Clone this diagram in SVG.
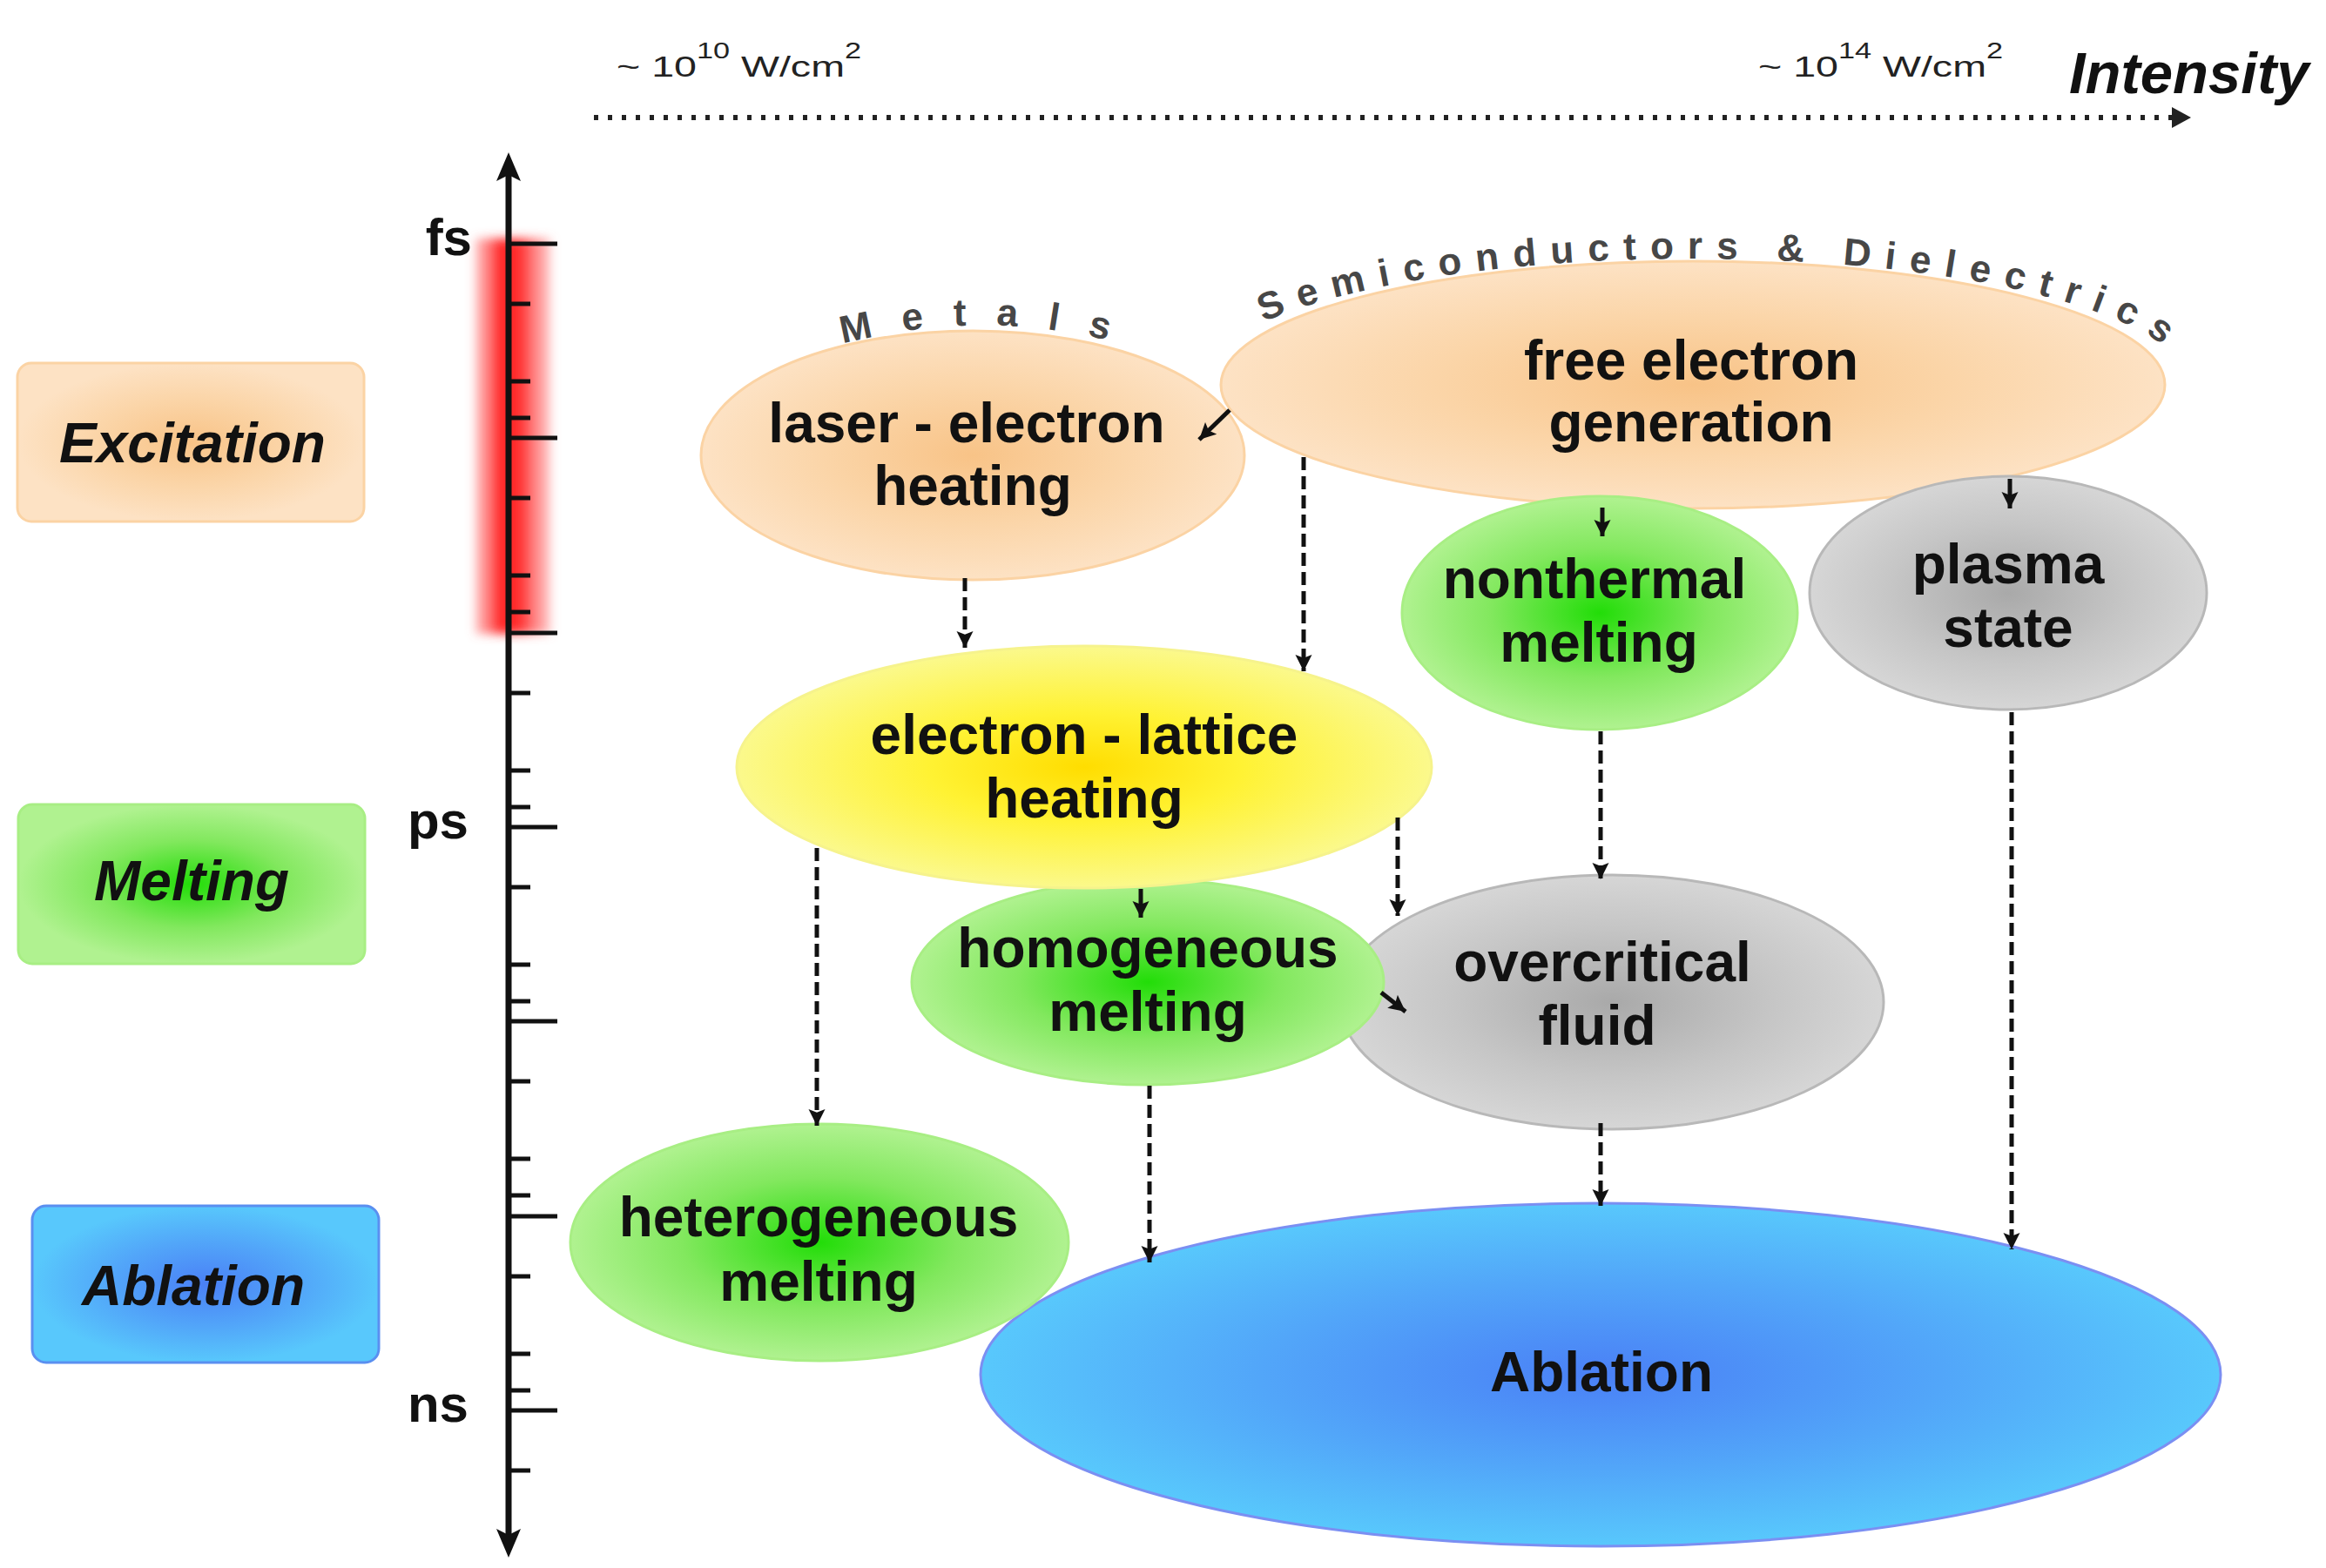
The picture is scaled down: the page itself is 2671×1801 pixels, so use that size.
<svg xmlns="http://www.w3.org/2000/svg" width="2671" height="1801" viewBox="0 0 2671 1801">
<defs>
<style>
.t{font-family:"Liberation Sans",Arial,sans-serif;font-weight:bold;font-size:64px;text-anchor:middle;fill:#111}
.ti{font-family:"Liberation Sans",Arial,sans-serif;font-weight:bold;font-style:italic;font-size:64px;text-anchor:middle;fill:#111}
.ax{font-family:"Liberation Sans",Arial,sans-serif;font-weight:bold;font-size:60px;text-anchor:end;fill:#111}
.sm{font-family:"Liberation Sans",Arial,sans-serif;font-size:34px;fill:#222}
.arc{font-family:"Liberation Sans",Arial,sans-serif;font-weight:bold;font-size:44px;fill:#474747}
.dash{fill:none;stroke:#111;stroke-width:5;stroke-dasharray:15 7;marker-end:url(#ah)}
.solid{fill:none;stroke:#111;stroke-width:5;marker-end:url(#ah)}
</style>
<marker id="ah" viewBox="0 0 20 20" refX="20" refY="10" markerWidth="19" markerHeight="20" markerUnits="userSpaceOnUse" orient="auto">
<path d="M0,0 L20,10 L0,20 L4,10 z" fill="#111"/>
</marker>
<radialGradient id="gPeach" cx="50%" cy="50%" r="50%">
<stop offset="0" stop-color="#f8c387"/><stop offset="0.55" stop-color="#fbd5a8"/><stop offset="1" stop-color="#fde2c4"/>
</radialGradient>
<radialGradient id="gGreen" cx="50%" cy="50%" r="50%">
<stop offset="0" stop-color="#22dd08"/><stop offset="0.55" stop-color="#82e85e"/><stop offset="1" stop-color="#b0f290"/>
</radialGradient>
<radialGradient id="gYellow" cx="50%" cy="50%" r="50%">
<stop offset="0" stop-color="#ffdd00"/><stop offset="0.45" stop-color="#fff233"/><stop offset="1" stop-color="#fbf98c"/>
</radialGradient>
<radialGradient id="gGray" cx="50%" cy="50%" r="50%">
<stop offset="0" stop-color="#a9a9a9"/><stop offset="0.6" stop-color="#c6c6c6"/><stop offset="1" stop-color="#d6d6d6"/>
</radialGradient>
<radialGradient id="gBlue" cx="50%" cy="50%" r="50%">
<stop offset="0" stop-color="#4a80f6"/><stop offset="0.55" stop-color="#52a6f9"/><stop offset="1" stop-color="#58c8fc"/>
</radialGradient>
<linearGradient id="gRed" x1="0" y1="0" x2="1" y2="0">
<stop offset="0" stop-color="#ff7070" stop-opacity="0.45"/><stop offset="0.35" stop-color="#ff2020"/><stop offset="0.6" stop-color="#ff3030"/><stop offset="1" stop-color="#ff8080" stop-opacity="0.45"/>
</linearGradient>
<filter id="blur" x="-20%" y="-10%" width="140%" height="120%"><feGaussianBlur stdDeviation="6"/></filter>
<path id="arcMetals" d="M800,469 A613,613 0 0 1 1456,469"/>
<path id="arcSemi" d="M1376,442 A568,145 0 0 1 2512,442"/>
</defs>
<rect width="2671" height="1801" fill="#fff"/>

<!-- intensity axis -->
<g id="intensity-axis">
<text class="sm" transform="translate(708,88) scale(1.37,1)">~ 10<tspan font-size="25" dy="-21">10</tspan><tspan dy="21"> W/cm</tspan><tspan font-size="25" dy="-21">2</tspan></text>
<text class="sm" transform="translate(2019,88) scale(1.37,1)">~ 10<tspan font-size="25" dy="-21">14</tspan><tspan dy="21"> W/cm</tspan><tspan font-size="25" dy="-21">2</tspan></text>
<text x="2376" y="107" style="font-family:'Liberation Sans',Arial,sans-serif;font-weight:bold;font-style:italic;font-size:67px;fill:#111">Intensity</text>
<line x1="682" y1="135" x2="2496" y2="135" stroke="#222" stroke-width="6" stroke-dasharray="5 11"/>
<polygon points="2494,123 2516,135 2494,147" fill="#222"/>
</g>

<!-- time axis -->
<g id="time-axis">
<rect x="546" y="274" width="86" height="454" fill="url(#gRed)" filter="url(#blur)"/>
<line x1="584" y1="200" x2="584" y2="1765" stroke="#111" stroke-width="7"/>
<polygon points="584,175 570,208 584,201 598,208" fill="#111"/>
<polygon points="584,1789 570,1756 584,1763 598,1756" fill="#111"/>
<path stroke="#111" stroke-width="5" fill="none" d="M584,280H640 M584,503H640 M584,727H640 M584,950H640 M584,1173H640 M584,1397H640 M584,1620H640
M584,349H609 M584,438H609 M584,480H609 M584,572H609 M584,661H609 M584,703H609 M584,796H609 M584,885H609 M584,927H609
M584,1019H609 M584,1108H609 M584,1150H609 M584,1242H609 M584,1331H609 M584,1373H609 M584,1466H609 M584,1555H609 M584,1597H609 M584,1689H609"/>
<text class="ax" x="542" y="293">fs</text>
<text class="ax" x="538" y="963">ps</text>
<text class="ax" x="538" y="1633">ns</text>
</g>

<!-- left phase labels -->
<g id="label-excitation">
<rect x="20" y="417" width="398" height="182" rx="16" fill="url(#gPeach)" stroke="#fbd3a4" stroke-width="3"/>
<text class="ti" x="221" y="531">Excitation</text>
</g>
<g id="label-melting">
<rect x="21" y="924" width="398" height="183" rx="16" fill="url(#gGreen)" stroke="#a8ee84" stroke-width="3"/>
<text class="ti" x="220" y="1034">Melting</text>
</g>
<g id="label-ablation">
<rect x="37" y="1385" width="398" height="180" rx="16" fill="url(#gBlue)" stroke="#5a8ff0" stroke-width="3"/>
<text class="ti" x="222" y="1499">Ablation</text>
</g>

<!-- curved group labels -->
<g id="group-labels">
<text class="arc" letter-spacing="34"><textPath href="#arcMetals" startOffset="184">Metals</textPath></text>
<text class="arc" letter-spacing="16"><textPath href="#arcSemi" startOffset="109">Semiconductors &amp; Dielectrics</textPath></text>
</g>

<!-- nodes -->
<g id="node-ablation">
<ellipse cx="1838" cy="1579" rx="712" ry="197" fill="url(#gBlue)" stroke="#7b8ff2" stroke-width="3"/>
<text class="t" x="1839" y="1598">Ablation</text>
</g>
<g id="node-overcritical">
<ellipse cx="1851" cy="1151" rx="312" ry="146" fill="url(#gGray)" stroke="#b8b8b8" stroke-width="3"/>
<text class="t" x="1840" y="1127">overcritical</text>
<text class="t" x="1834" y="1200">fluid</text>
</g>
<g id="node-heterogeneous">
<ellipse cx="941" cy="1427" rx="286" ry="136" fill="url(#gGreen)" stroke="#a8ee84" stroke-width="3"/>
<text class="t" x="940" y="1420">heterogeneous</text>
<text class="t" x="940" y="1494">melting</text>
</g>
<g id="node-homogeneous">
<ellipse cx="1318" cy="1128" rx="271" ry="118" fill="url(#gGreen)" stroke="#a8ee84" stroke-width="3"/>
<text class="t" x="1318" y="1111">homogeneous</text>
<text class="t" x="1318" y="1184">melting</text>
</g>
<g id="node-electron-lattice">
<ellipse cx="1245" cy="881" rx="399" ry="139" fill="url(#gYellow)" stroke="#f6f38c" stroke-width="3"/>
<text class="t" x="1245" y="866">electron - lattice</text>
<text class="t" x="1245" y="939">heating</text>
</g>
<g id="node-laser-electron">
<ellipse cx="1117" cy="523" rx="312" ry="143" fill="url(#gPeach)" stroke="#fbd3a4" stroke-width="3"/>
<text class="t" x="1110" y="508">laser - electron</text>
<text class="t" x="1117" y="580">heating</text>
</g>
<g id="node-free-electron">
<ellipse cx="1944" cy="442" rx="542" ry="142" fill="url(#gPeach)" stroke="#fbd3a4" stroke-width="3"/>
<text class="t" x="1942" y="436">free electron</text>
<text class="t" x="1942" y="507">generation</text>
</g>
<g id="node-nonthermal">
<ellipse cx="1837" cy="704" rx="227" ry="134" fill="url(#gGreen)" stroke="#a8ee84" stroke-width="3"/>
<text class="t" x="1831" y="687">nonthermal</text>
<text class="t" x="1836" y="760">melting</text>
</g>
<g id="node-plasma">
<ellipse cx="2306" cy="681" rx="228" ry="134" fill="url(#gGray)" stroke="#b8b8b8" stroke-width="3"/>
<text class="t" x="2306" y="670">plasma</text>
<text class="t" x="2306" y="743">state</text>
</g>

<!-- connectors -->
<g id="connectors">
<line class="solid" x1="1412" y1="471" x2="1377" y2="505"/>
<line class="solid" x1="1840" y1="583" x2="1840" y2="616"/>
<line class="solid" x1="2308" y1="550" x2="2308" y2="584"/>
<line class="solid" x1="1310" y1="1021" x2="1310" y2="1054"/>
<line class="solid" x1="1586" y1="1140" x2="1614" y2="1162"/>
<line class="dash" x1="1108" y1="664" x2="1108" y2="744"/>
<line class="dash" x1="1497" y1="525" x2="1497" y2="771"/>
<line class="dash" x1="1838" y1="840" x2="1838" y2="1010"/>
<line class="dash" x1="938" y1="974" x2="938" y2="1293"/>
<line class="dash" x1="1605" y1="939" x2="1605" y2="1052"/>
<line class="dash" x1="1320" y1="1247" x2="1320" y2="1450"/>
<line class="dash" x1="1838" y1="1290" x2="1838" y2="1385"/>
<line class="dash" x1="2310" y1="818" x2="2310" y2="1435"/>
</g>
</svg>
